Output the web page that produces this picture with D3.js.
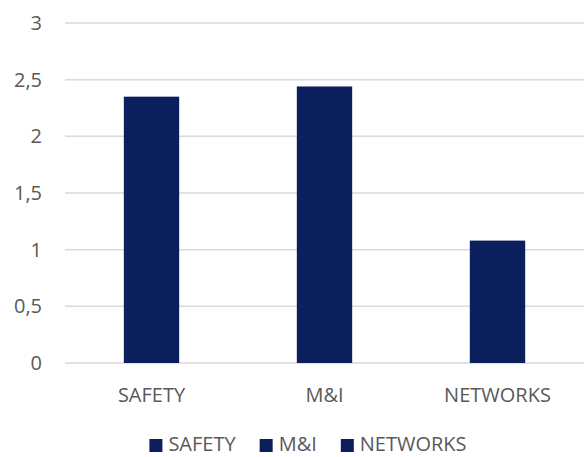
<!DOCTYPE html>
<html><head><meta charset="utf-8">
<script src="https://cdn.jsdelivr.net/npm/d3@7"></script>
<style>body{margin:0;background:#fff}svg{display:block}text{font-family:"Open Sans",sans-serif;fill:#595959}</style>
</head><body><svg id="c" width="584" height="457"></svg>
<script>
const categories = ["SAFETY", "M&I", "NETWORKS"];
const values = [2.35, 2.44, 1.08];
const yTicks = [0, 0.5, 1, 1.5, 2, 2.5, 3];
const yTickLabels = ["0", "0,5", "1", "1,5", "2", "2,5", "3"];

const svg = d3.select("#c");
const color = "#0A1F5C";
const fs = 20;
const x = d3.scaleBand().domain(categories).range([65, 584]).paddingInner(0.68).paddingOuter(0.34);
const y = d3.scaleLinear().domain([0, 3]).range([363, 23]);

// gridlines
svg.append("g").selectAll("line").data(yTicks).join("line")
  .attr("x1", 65).attr("x2", 584)
  .attr("y1", d => y(d)).attr("y2", d => y(d))
  .attr("stroke", "#D9D9D9").attr("stroke-width", 1.5);

// y axis labels
const yAxis = d3.axisLeft(y).tickValues(yTicks).tickFormat((d, i) => yTickLabels[i]).tickSize(0).tickPadding(0);
const ya = svg.append("g").attr("transform", "translate(42,0)").call(yAxis);
ya.select(".domain").remove();
ya.selectAll("text").attr("font-size", fs).attr("fill", "#595959").attr("font-family", "Open Sans");

// bars
svg.append("g").selectAll("rect").data(categories).join("rect")
  .attr("x", d => x(d)).attr("width", x.bandwidth())
  .attr("y", (d, i) => y(values[i])).attr("height", (d, i) => y(0) - y(values[i]))
  .attr("fill", color);

// x axis labels
const xAxis = d3.axisBottom(x).tickSize(0).tickPadding(0);
const xa = svg.append("g").attr("transform", "translate(0,388)").call(xAxis);
xa.select(".domain").remove();
xa.selectAll("text").attr("font-size", fs).attr("fill", "#595959").attr("font-family", "Open Sans");

// legend
const lg = svg.append("g");
const sq = 13, gapT = 6, gapI = 24;
let cx = 0;
categories.forEach(c => {
  const g = lg.append("g");
  g.append("rect").attr("x", 0).attr("y", -sq + 1).attr("width", sq).attr("height", sq).attr("fill", color);
  const t = g.append("text").attr("x", sq + gapT).attr("y", 0).attr("font-size", fs).text(c);
  const w = sq + gapT + t.node().getComputedTextLength();
  g.attr("transform", `translate(${cx},0)`);
  cx += w + gapI;
});
const total = cx - gapI;
lg.attr("transform", `translate(${308 - total / 2},451)`);
</script></body></html>
